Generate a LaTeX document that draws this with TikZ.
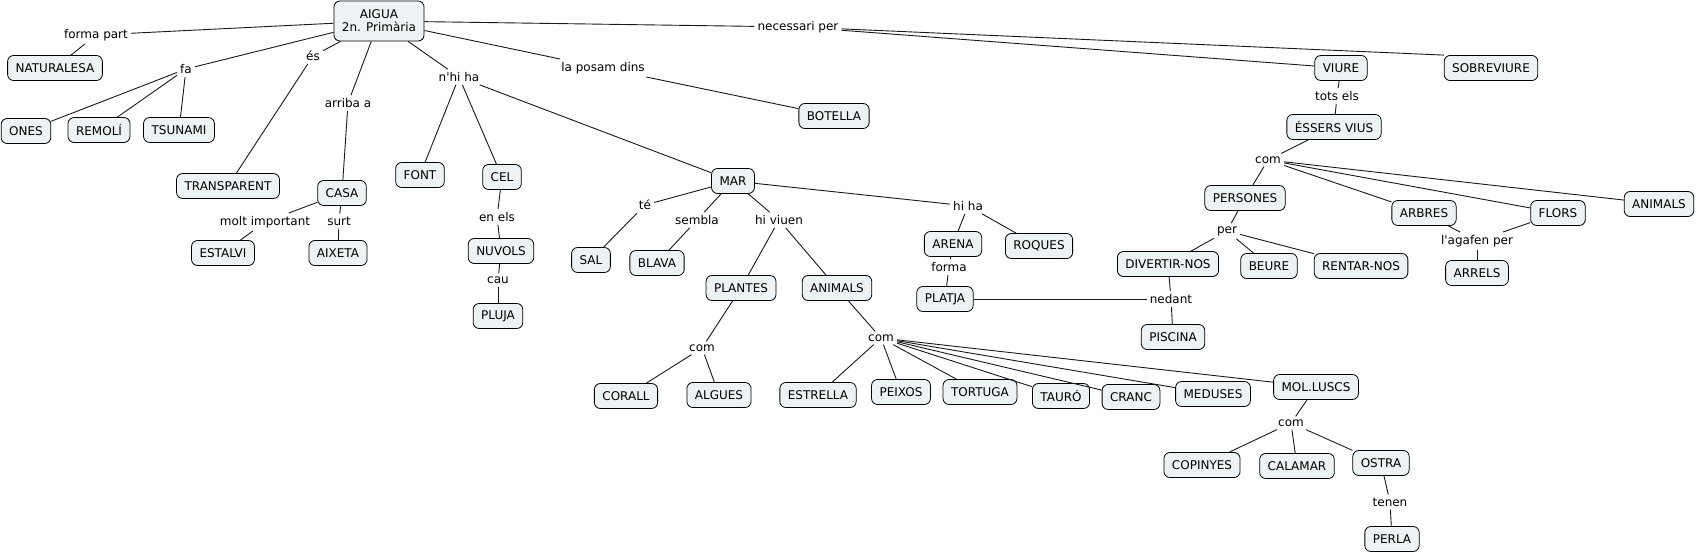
\documentclass[tikz,border=0pt]{standalone}
\usepackage{fontspec}
\setmainfont{DejaVu Sans}
\usetikzlibrary{positioning}

\begin{document}
\begin{tikzpicture}[x=1pt, y=-1pt,
  concept/.style={draw=black, fill=boxfill, rounded corners=6pt, line width=0.8pt,
    inner xsep=8pt, inner ysep=2pt, minimum height=25pt, font=\fontsize{12}{14}\selectfont},
  phrase/.style={inner sep=3pt, font=\fontsize{12}{14}\selectfont},
  conn/.style={draw=black!90, line width=0.9pt}]

\definecolor{boxfill}{RGB}{237,243,245}
\def\ap{\textquotesingle}

\useasboundingbox[fill=white] (0,0) rectangle (1698,554);

% ---------------- concepts ----------------
\node[concept, align=center, minimum height=40pt] (aigua) at (379,21) {AIGUA\\[-1pt]2n. Primària};
\node[concept] (natura)   at (55,68)    {NATURALESA};
\node[concept] (ones)     at (26,131)   {ONES};
\node[concept] (remoli)   at (99,130)   {REMOLÍ};
\node[concept] (tsunami)  at (179,130)  {TSUNAMI};
\node[concept] (transp)   at (228,186)  {TRANSPARENT};
\node[concept] (casa)     at (342,193)  {CASA};
\node[concept] (estalvi)  at (223,253)  {ESTALVI};
\node[concept] (aixeta)   at (338,253)  {AIXETA};
\node[concept] (font)     at (420,175)  {FONT};
\node[concept] (cel)      at (502,177)  {CEL};
\node[concept] (nuvols)   at (501,251)  {NUVOLS};
\node[concept] (pluja)    at (498,316)  {PLUJA};
\node[concept] (botella)  at (834,116)  {BOTELLA};
\node[concept] (mar)      at (733,181)  {MAR};
\node[concept] (sal)      at (591,260)  {SAL};
\node[concept] (blava)    at (657,263)  {BLAVA};
\node[concept] (plantes)  at (741,288)  {PLANTES};
\node[concept] (animar)   at (837,288)  {ANIMALS};
\node[concept] (corall)   at (626,396)  {CORALL};
\node[concept] (algues)   at (719,395)  {ALGUES};
\node[concept] (estrella) at (818,395)  {ESTRELLA};
\node[concept] (peixos)   at (901,392)  {PEIXOS};
\node[concept] (tortuga)  at (980,392)  {TORTUGA};
\node[concept] (tauro)    at (1061,396) {TAURÓ};
\node[concept] (cranc)    at (1131,397) {CRANC};
\node[concept] (meduses)  at (1213,394) {MEDUSES};
\node[concept] (molluscs) at (1316,387) {MOL.LUSCS};
\node[concept] (copinyes) at (1202,465) {COPINYES};
\node[concept] (calamar)  at (1297,466) {CALAMAR};
\node[concept] (ostra)    at (1381,463) {OSTRA};
\node[concept] (perla)    at (1392,539) {PERLA};
\node[concept] (arena)    at (953,244)  {ARENA};
\node[concept] (roques)   at (1039,246) {ROQUES};
\node[concept] (platja)   at (945,299)  {PLATJA};
\node[concept] (viure)    at (1341,68)  {VIURE};
\node[concept] (sobrev)   at (1491,68)  {SOBREVIURE};
\node[concept] (essers)   at (1334,127) {ÉSSERS VIUS};
\node[concept] (persones) at (1245,198) {PERSONES};
\node[concept] (arbres)   at (1424,213) {ARBRES};
\node[concept] (flors)    at (1558,213) {FLORS};
\node[concept] (animvius) at (1659,204) {ANIMALS};
\node[concept] (divertir) at (1168,264) {DIVERTIR-NOS};
\node[concept] (beure)    at (1269,266) {BEURE};
\node[concept] (rentar)   at (1361,266) {RENTAR-NOS};
\node[concept] (arrels)   at (1477,273) {ARRELS};
\node[concept] (piscina)  at (1173,337) {PISCINA};

% ---------------- linking phrases ----------------
\node[phrase] (lForma)  at (96,35)    {forma part};
\node[phrase] (lFa)     at (186,69)   {fa};
\node[phrase] (lEs)     at (313,56)   {és};
\node[phrase] (lArriba) at (348,103)  {arriba a};
\node[phrase] (lMolt)   at (265,222)  {molt important};
\node[phrase] (lSurt)   at (339,221)  {surt};
\node[phrase] (lNhiha)  at (459,77)   {n\ap hi ha};
\node[phrase] (lEnels)  at (497,217)  {en els};
\node[phrase] (lCau)    at (498,280)  {cau};
\node[phrase] (lPosam)  at (603,68)   {la posam dins};
\node[phrase] (lNeces)  at (798,27)   {necessari per};
\node[phrase] (lTe)     at (645,205)  {té};
\node[phrase] (lSembla) at (697,220)  {sembla};
\node[phrase] (lViuen)  at (779,220)  {hi viuen};
\node[phrase] (lHiha)   at (968,206)  {hi ha};
\node[phrase] (lFormaP) at (949,267)  {forma};
\node[phrase] (lComP)   at (702,348)  {com};
\node[phrase] (lComA)   at (881,338)  {com};
\node[phrase] (lComM)   at (1291,423) {com};
\node[phrase] (lTenen)  at (1390,502) {tenen};
\node[phrase] (lTots)   at (1337,96)  {tots els};
\node[phrase] (lComE)   at (1268,160) {com};
\node[phrase] (lPer)    at (1227,231) {per};
\node[phrase] (lAgafen) at (1477,241) {l\ap agafen per};
\node[phrase] (lNedant) at (1171,299) {nedant};

% ---------------- connectors ----------------
\foreach \a/\b in {aigua/lForma, lForma/natura,
    aigua/lFa, lFa/ones, lFa/remoli, lFa/tsunami,
    aigua/lEs, lEs/transp,
    aigua/lArriba, lArriba/casa, casa/lMolt, lMolt/estalvi, casa/lSurt, lSurt/aixeta,
    aigua/lNhiha, lNhiha/font, lNhiha/cel, lNhiha/mar,
    cel/lEnels, lEnels/nuvols, nuvols/lCau, lCau/pluja,
    aigua/lPosam, lPosam/botella,
    aigua/lNeces, lNeces/viure,
    mar/lTe, lTe/sal, mar/lSembla, lSembla/blava,
    mar/lViuen, lViuen/plantes, lViuen/animar,
    mar/lHiha, lHiha/arena, lHiha/roques, arena/lFormaP, lFormaP/platja,
    plantes/lComP, lComP/corall, lComP/algues,
    animar/lComA, lComA/estrella, lComA/peixos, lComA/tortuga, lComA/tauro,
    lComA/cranc, lComA/meduses, lComA/molluscs,
    molluscs/lComM, lComM/copinyes, lComM/calamar, lComM/ostra,
    ostra/lTenen, lTenen/perla,
    viure/lTots, lTots/essers,
    essers/lComE, lComE/persones, lComE/arbres, lComE/flors, lComE/animvius,
    persones/lPer, lPer/divertir, lPer/beure, lPer/rentar,
    divertir/lNedant, lNedant/platja, lNedant/piscina,
    arbres/lAgafen, flors/lAgafen, lAgafen/arrels}
  \draw[conn] (\a) -- (\b);
\draw[conn] (lNeces) -- (sobrev.north west);

\end{tikzpicture}
\end{document}
